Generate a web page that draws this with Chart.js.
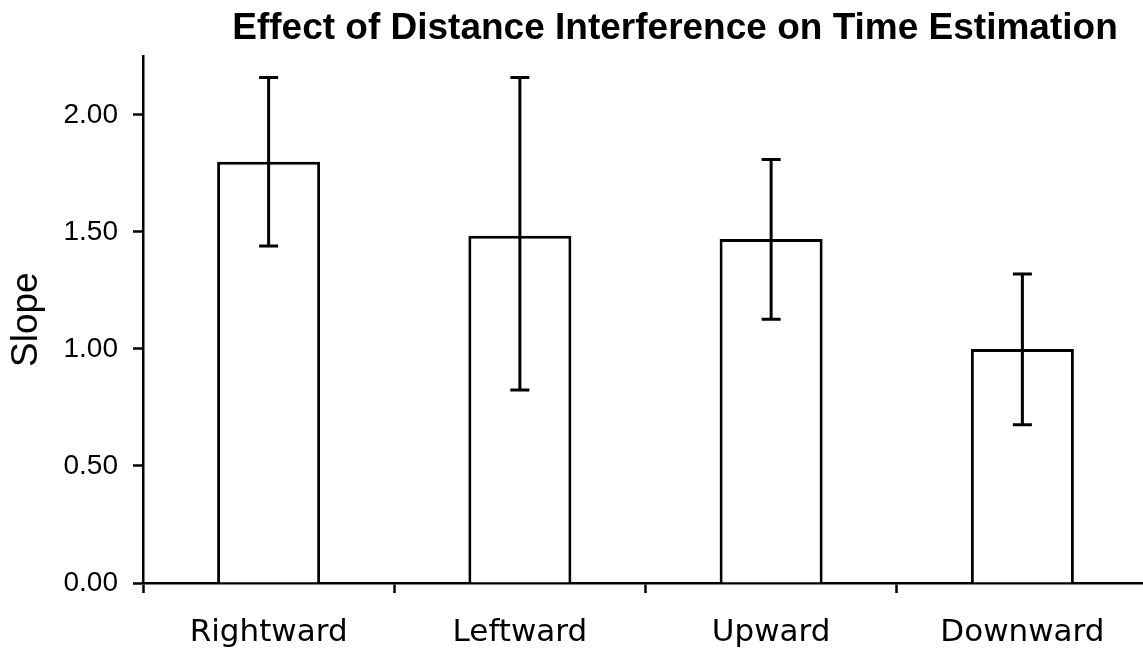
<!DOCTYPE html>
<html><head><meta charset="utf-8">
<script src="https://cdn.jsdelivr.net/npm/chart.js@4"></script>
<style>html,body{margin:0;padding:0;background:#fff;overflow:hidden;}#wrap{width:1150px;height:649px;}</style>
</head><body><div id="wrap"><canvas id="c" width="1150" height="649"></canvas></div>
<script>
const categories = ['Rightward', 'Leftward', 'Upward', 'Downward'];
const slopeMeans = [1.80, 1.484, 1.47, 1.00];
const errorUpper = [2.16, 2.16, 1.81, 1.32];
const errorLower = [1.44, 0.825, 1.127, 0.676];
const titleText = 'Effect of Distance Interference on Time Estimation';
const yAxisTitle = 'Slope';

const errorBars = {
  id: 'errorBars',
  afterDatasetsDraw(chart) {
    const ctx = chart.ctx, y = chart.scales.y, meta = chart.getDatasetMeta(0);
    ctx.save();
    ctx.strokeStyle = '#000';
    ctx.lineWidth = 3;
    meta.data.forEach((bar, i) => {
      const x = bar.x;
      const yt = y.getPixelForValue(errorUpper[i]);
      const yb = y.getPixelForValue(errorLower[i]);
      ctx.beginPath();
      ctx.moveTo(x, yt); ctx.lineTo(x, yb);
      ctx.moveTo(x - 9.5, yt); ctx.lineTo(x + 9.5, yt);
      ctx.moveTo(x - 9.5, yb); ctx.lineTo(x + 9.5, yb);
      ctx.stroke();
    });
    ctx.restore();
  }
};

const titleShift = {
  id: 'titleShift',
  afterLayout(chart) {
    const t = chart.titleBlock;
    if (t) { t.left = 675 - 500; t.right = 675 + 500; }
  }
};

new Chart(document.getElementById('c'), {
  type: 'bar',
  data: {
    labels: categories,
    datasets: [{
      data: slopeMeans,
      backgroundColor: '#ffffff',
      borderColor: '#000000',
      borderWidth: 3,
      barPercentage: 0.41,
      categoryPercentage: 1.0
    }]
  },
  options: {
    responsive: false,
    animation: false,
    layout: { padding: { left: 0, right: 2, top: 0, bottom: 0 } },
    plugins: {
      legend: { display: false },
      tooltip: { enabled: false },
      title: {
        display: true,
        text: titleText,
        color: '#000',
        font: { family: "'Liberation Sans', Arial, sans-serif", size: 37, weight: 'bold' },
        padding: { top: 7, bottom: 5 }
      }
    },
    scales: {
      x: {
        offset: true,
        grid: { display: true, offset: true, drawOnChartArea: false, drawTicks: true, tickLength: 10, tickColor: '#000', tickWidth: 2.5 },
        border: { display: true, color: '#000', width: 2.5 },
        ticks: { color: '#000', padding: 21, font: { family: "'DejaVu Sans', sans-serif", size: 31 } },
        afterFit(scale) { scale.height = 66; }
      },
      y: {
        min: 0,
        max: 2.25,
        grid: { display: true, drawOnChartArea: false, drawTicks: true, tickLength: 10, tickColor: '#000', tickWidth: 2.5 },
        border: { display: true, color: '#000', width: 2.5 },
        ticks: {
          stepSize: 0.5,
          includeBounds: false,
          color: '#000',
          padding: 15,
          font: { family: "'Liberation Sans', Arial, sans-serif", size: 28 },
          callback: (v) => Number(v).toFixed(2)
        },
        title: {
          display: true,
          text: yAxisTitle,
          color: '#000',
          padding: { top: 5, bottom: 0 },
          font: { family: "'Liberation Sans', Arial, sans-serif", size: 37 }
        },
        afterFit(scale) { scale.width = 143; }
      }
    }
  },
  plugins: [errorBars, titleShift]
});
</script>
</body></html>
